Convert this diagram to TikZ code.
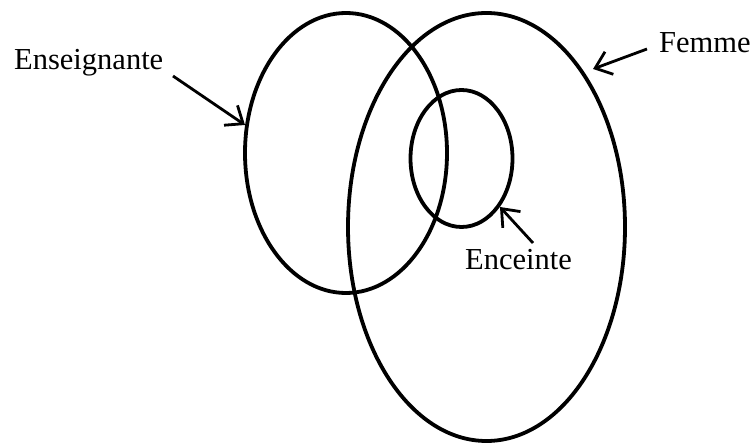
\documentclass[tikz,border=0pt]{standalone}
\usepackage{fontspec}
\setmainfont{Liberation Serif}
\usetikzlibrary{shapes.geometric,arrows.meta}
\tikzset{
  set/.style={ellipse, draw=black, line width=3.8pt, inner sep=0pt, outer sep=0pt},
  lbl/.style={font=\fontsize{30.5}{36}\selectfont, inner sep=0pt, anchor=base west},
  pointer/.style={line width=2.8pt, -{Straight Barb[length=15pt,width=24pt,line width=2.8pt]}}
}
\begin{document}
\begin{tikzpicture}[x=1pt,y=-1pt]
\useasboundingbox (0,0) rectangle (755,443);
\node[set, minimum width=202pt, minimum height=280pt] (ens) at (346,153) {};
\node[set, minimum width=277pt, minimum height=428pt] (fem) at (486.5,227) {};
\node[set, minimum width=102pt, minimum height=137pt] (enc) at (461.5,158.5) {};
\node[lbl] (tens) at (14,70) {Enseignante};
\node[lbl] (tfem) at (659,53) {Femme};
\node[lbl] (tenc) at (465,270) {Enceinte};
\coordinate (a1s) at (173,76);
\coordinate (a1e) at (245,125);
\coordinate (a2s) at (647,49);
\coordinate (a2e) at (593,69);
\coordinate (a3s) at (533,243);
\coordinate (a3e) at (500,207);
\draw[pointer] (a1s) -- (a1e);
\draw[pointer] (a2s) -- (a2e);
\draw[pointer] (a3s) -- (a3e);
\end{tikzpicture}
\end{document}
